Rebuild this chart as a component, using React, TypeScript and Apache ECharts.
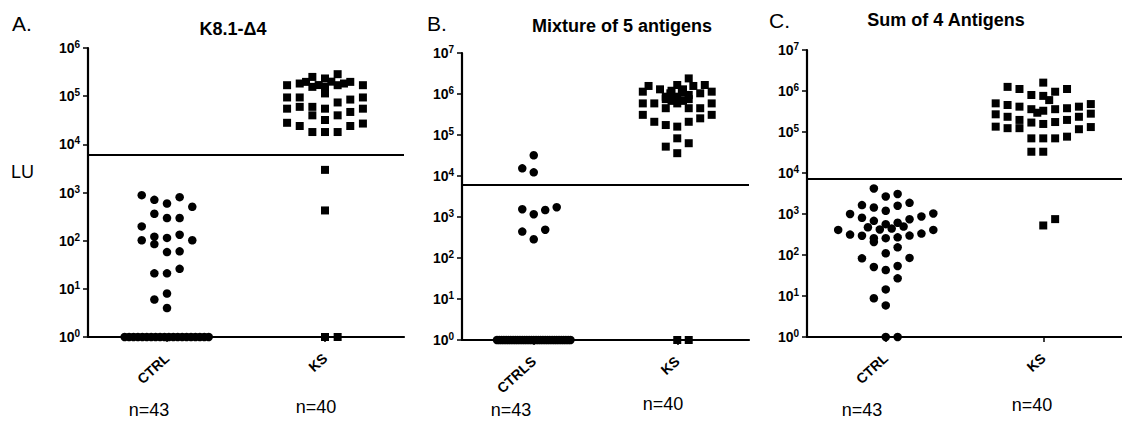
import React, { useEffect, useRef } from "react";
import * as echarts from "echarts";

const FONT = '"Liberation Sans", Arial, Helvetica, sans-serif';

// ---- Data: [column offset within the swarm, LU value] ----
const A_CATEGORIES = ["CTRL", "KS"];
const B_CATEGORIES = ["CTRLS", "KS"];
const C_CATEGORIES = ["CTRL", "KS"];

const A_TITLE = "K8.1-Δ4";
const B_TITLE = "Mixture of 5 antigens";
const C_TITLE = "Sum of 4 Antigens";

const A_CUTOFF = 6000;
const B_CUTOFF = 6000;
const C_CUTOFF = 7100;

const A_N = ["n=43", "n=40"];
const B_N = ["n=43", "n=40"];
const C_N = ["n=43", "n=40"];

const A_CTRL: [number, number][] = [
  [-2, 880], [-1, 705], [0, 590], [1, 800], [2, 505],
  [-1, 362], [0, 295], [1, 295],
  [-2, 198], [-2, 102], [-1, 121], [-1, 85], [0, 114], [1, 133], [2, 102],
  [0, 58], [1, 60], [-1, 21], [0, 21], [1, 26], [-1, 6], [0, 8], [0, 4],
  [-3.35, 1], [-3.0, 1], [-2.65, 1], [-2.3, 1], [-1.95, 1], [-1.6, 1], [-1.25, 1],
  [-0.9, 1], [-0.55, 1], [-0.2, 1], [0.15, 1], [0.5, 1], [0.85, 1], [1.2, 1],
  [1.55, 1], [1.9, 1], [2.25, 1], [2.6, 1], [2.95, 1], [3.3, 1],
];

const A_KS: [number, number][] = [
  [1, 286000], [-1, 251000], [0, 233000], [-2, 183000], [-1.5, 198000], [-3, 169000],
  [2, 198000], [1, 169000], [3, 169000], [0, 156000], [1.5, 183000], [-1, 156000],
  [0.5, 200000], [-0.5, 170000],
  [0, 114000], [-3, 94000], [-2, 94000], [3, 94000], [2, 85000], [1, 74000],
  [-2, 60000], [-3, 55000], [-1, 60000], [0, 55000], [3, 55000], [2, 47000],
  [-1, 40000], [1, 40000], [0, 32000],
  [-3, 28000], [-2, 24000], [-1, 18000], [0, 18000], [1, 18000], [2, 24000], [3, 27000],
  [0, 2950], [0, 424], [0, 1], [1, 1],
];

const B_CTRL: [number, number][] = [
  [0, 32000], [-1, 15400], [0, 12300], [-1, 1550], [0, 1170], [1, 1480], [2, 1730],
  [-1, 440], [1, 490], [0, 286],
  [-3.2, 1], [-3.0, 1], [-2.8, 1], [-2.6, 1], [-2.4, 1], [-2.2, 1], [-2.0, 1], [-1.8, 1],
  [-1.6, 1], [-1.4, 1], [-1.2, 1], [-1.0, 1], [-0.8, 1], [-0.6, 1], [-0.4, 1], [-0.2, 1],
  [0, 1], [0.2, 1], [0.4, 1], [0.6, 1], [0.8, 1], [1.0, 1], [1.2, 1], [1.4, 1],
  [1.6, 1], [1.8, 1], [2.0, 1], [2.2, 1], [2.4, 1], [2.6, 1], [2.8, 1], [3.0, 1], [3.2, 1],
];

const B_KS: [number, number][] = [
  [1, 2400000],
  [-2.5, 1570000], [-1.5, 1300000], [0, 1660000], [1.4, 1570000], [2.4, 1660000],
  [-3, 1140000], [3, 1140000],
  [-0.6, 1040000], [0.4, 1070000], [-1, 860000], [0, 860000], [1, 950000], [2, 1040000],
  [-0.5, 1200000], [0.5, 1300000], [-1, 750000], [1, 750000], [0.5, 680000], [-0.5, 680000],
  [-3, 590000], [-2, 590000], [-1, 450000], [0, 590000], [1, 450000], [2, 450000], [3, 590000],
  [-3, 310000], [-2, 210000], [-1, 175000], [0, 160000], [1, 210000], [2, 255000], [3, 310000],
  [0, 83000], [-1, 52000], [1, 63000], [0, 36000],
  [0, 1], [1, 1],
];

const C_CTRL: [number, number][] = [
  [-1, 4200], [0, 2680], [1, 3080],
  [-2, 1650], [-1, 1440], [0, 1200], [1, 1590], [2, 1870],
  [-3, 1000], [-2, 810], [-1, 680], [0, 565], [1, 610], [2, 745], [3, 870], [4, 1030],
  [-4, 410], [-3, 315], [-2, 295], [-1.5, 475], [-0.5, 420], [0.5, 440], [1.5, 495],
  [2, 297], [3, 333], [4, 410],
  [-1, 257], [-1, 208], [0, 257], [1, 270], [1, 154],
  [0, 110], [-2, 83], [2, 85],
  [-1, 51], [0, 43], [1, 54],
  [1, 27], [0, 14.5], [-1, 8.8], [0, 5.9],
  [0, 1], [1, 1],
];

const C_KS: [number, number][] = [
  [0, 1600000], [-3, 1260000], [-2, 1120000], [2, 1120000], [1, 960000],
  [-1, 800000], [0, 760000], [0.5, 600000],
  [-4, 500000], [-3, 455000], [-2, 415000], [-1, 360000], [-0.5, 295000], [0, 330000],
  [1, 360000], [2, 380000], [3, 415000], [4, 480000],
  [-4, 270000], [-3, 235000], [3, 235000], [4, 280000],
  [-2, 197000], [-1, 170000], [0, 157000], [1, 175000], [2, 197000],
  [-4, 135000], [-3, 124000], [-2, 124000], [3, 117000], [4, 132000],
  [-1, 70000], [0, 70000], [1, 70000], [2, 77000],
  [-1, 33000], [0, 33000],
  [0, 525], [1, 750],
];

const PANELS = [
  { ctrl: A_CTRL, ks: A_KS, cats: A_CATEGORIES, max: 1e6, cutoff: A_CUTOFF, step: 0.08 },
  { ctrl: B_CTRL, ks: B_KS, cats: B_CATEGORIES, max: 1e7, cutoff: B_CUTOFF, step: 0.08 },
  { ctrl: C_CTRL, ks: C_KS, cats: C_CATEGORIES, max: 1e7, cutoff: C_CUTOFF, step: 0.0755 },
];

const GRIDS = [
  { left: 88, top: 48, width: 316, height: 289 },
  { left: 462, top: 53, width: 287, height: 287 },
  { left: 807, top: 50, width: 326, height: 287 },
];

function txt(text: string, x: number, y: number, size: number, weight: string, align = "center") {
  return {
    type: "text",
    x,
    y,
    silent: true,
    style: {
      text,
      fill: "#000",
      fontSize: size,
      fontWeight: weight,
      fontFamily: FONT,
      align,
      textAlign: align,
      verticalAlign: "middle",
      textVerticalAlign: "middle",
    },
  };
}

function buildOption() {
  const xAxis: any[] = [];
  const yAxis: any[] = [];
  const series: any[] = [];

  PANELS.forEach((p, i) => {
    xAxis.push({
      type: "value",
      gridIndex: i,
      min: 0.5,
      max: 2.5,
      show: false,
    });
    xAxis.push({
      type: "category",
      gridIndex: i,
      data: p.cats,
      boundaryGap: true,
      position: "bottom",
      axisLine: { show: true, lineStyle: { color: "#000", width: 2.2 } },
      axisTick: { show: true, alignWithLabel: true, length: 5, lineStyle: { color: "#000", width: 1.5 } },
      axisLabel: {
        rotate: 42,
        margin: 19,
        color: "#000",
        fontSize: 14,
        fontWeight: "bold",
        fontFamily: FONT,
      },
      splitLine: { show: false },
    });
    yAxis.push({
      type: "log",
      logBase: 10,
      gridIndex: i,
      min: 1,
      max: p.max,
      interval: 1,
      axisLine: { show: true, lineStyle: { color: "#000", width: 2.2 } },
      axisTick: { show: true, length: 5, lineStyle: { color: "#000", width: 1.5 } },
      minorTick: { show: false },
      splitLine: { show: false },
      axisLabel: {
        margin: 8,
        formatter: (v: number) => `{b|10}{s|${Math.round(Math.log10(v))}}`,
        rich: {
          b: { fontSize: 14, fontWeight: "bold", color: "#000", fontFamily: FONT, lineHeight: 17 },
          s: { fontSize: 10, fontWeight: "bold", color: "#000", fontFamily: FONT, verticalAlign: "top", lineHeight: 17 },
        },
      },
    });
    series.push({
      type: "scatter",
      xAxisIndex: i * 2,
      yAxisIndex: i,
      symbol: "circle",
      symbolSize: 8.5,
      clip: false,
      itemStyle: { color: "#000", opacity: 1 },
      data: p.ctrl.map(([c, v]) => [1 + c * p.step, v]),
      markLine: {
        silent: true,
        symbol: ["none", "none"],
        label: { show: false },
        lineStyle: { color: "#000", width: 2, type: "solid", opacity: 1 },
        data: [{ yAxis: p.cutoff }],
      },
    });
    series.push({
      type: "scatter",
      xAxisIndex: i * 2,
      yAxisIndex: i,
      symbol: "rect",
      symbolSize: 8,
      clip: false,
      itemStyle: { color: "#000", opacity: 1 },
      data: p.ks.map(([c, v]) => [2 + c * p.step, v]),
    });
  });

  const graphic: any[] = [
    txt("A.", 12, 23, 21, "normal", "left"),
    txt("B.", 427, 23, 21, "normal", "left"),
    txt("C.", 769, 20, 21, "normal", "left"),
    txt(A_TITLE, 233, 29, 18, "bold"),
    txt(B_TITLE, 622, 26, 18, "bold"),
    txt(C_TITLE, 946, 20, 18, "bold"),
    txt("LU", 11, 172, 18, "normal", "left"),
    txt(A_N[0], 149, 410, 18, "normal"),
    txt(A_N[1], 316, 407, 18, "normal"),
    txt(B_N[0], 511, 410, 18, "normal"),
    txt(B_N[1], 663, 404, 18, "normal"),
    txt(C_N[0], 862, 410, 18, "normal"),
    txt(C_N[1], 1032, 405, 18, "normal"),
  ];

  return {
    animation: false,
    backgroundColor: "#fff",
    grid: GRIDS,
    xAxis,
    yAxis,
    series,
    graphic,
  };
}

export default function App() {
  const ref = useRef<HTMLDivElement>(null);
  useEffect(() => {
    if (!ref.current) return;
    const chart = echarts.init(ref.current, null, { renderer: "svg" });
    chart.setOption(buildOption() as any);
    return () => chart.dispose();
  }, []);
  return (
    <div
      ref={ref}
      style={{ position: "fixed", left: 0, top: 0, width: 1122, height: 421, background: "#fff" }}
    />
  );
}
